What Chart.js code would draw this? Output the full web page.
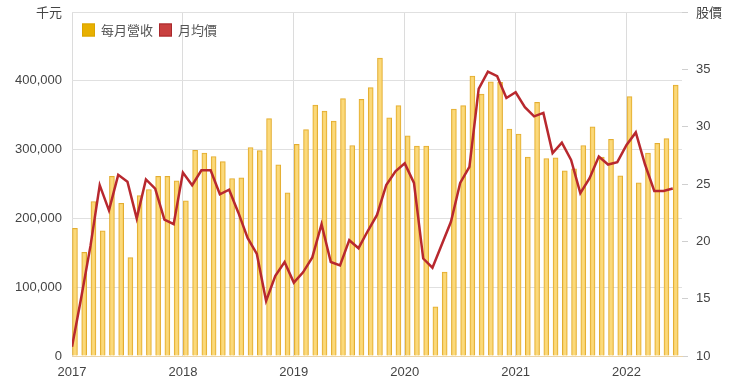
<!DOCTYPE html>
<html>
<head>
<meta charset="utf-8">
<script src="https://cdn.jsdelivr.net/npm/chart.js@4"></script>
<style>
  html, body { margin: 0; padding: 0; background: #fff; }
  #wrap { width: 740px; height: 388px; }
</style>
</head>
<body>
<div id="wrap"><canvas id="myChart"></canvas></div>
<script>
// months since Jan 2017, one per data point (Jan 2017 .. Jun 2022)
const startYear = 2017;
const yearTicks = ["2017", "2018", "2019", "2020", "2021", "2022"];

// 每月營收 (千元)
const revenue = [
  185500, 150700, 224600, 182000, 261000, 222000, 143000, 233000, 242000, 261000, 261000, 254600,
  225600, 299000, 295000, 290000, 282600, 258000, 259000, 303000, 298600, 345000, 278000, 237000,
  307700, 329000, 364700, 356000, 341500, 374000, 306000, 373000, 390000, 433000, 346000, 364000,
  320000, 305000, 305000, 71500, 122000, 359000, 364000, 407000, 380700, 398500, 397600, 330000,
  322700, 289000, 368600, 287000, 288000, 269000, 272000, 306000, 333000, 289000, 315000, 262000,
  377000, 251600, 295000, 309000, 316000, 393600
];

// 月均價
const avgPrice = [
  10.8, 15.1, 19.6, 24.9, 22.7, 25.8, 25.2, 22.0, 25.4, 24.6, 21.9, 21.5,
  26.0, 24.9, 26.2, 26.2, 24.1, 24.5, 22.5, 20.3, 18.9, 14.8, 17.0, 18.2,
  16.4, 17.3, 18.6, 21.5, 18.2, 17.9, 20.1, 19.4, 20.9, 22.3, 24.9, 26.1,
  26.8, 25.1, 18.5, 17.7, 19.7, 21.7, 25.1, 26.5, 33.3, 34.8, 34.4, 32.5,
  33.0, 31.7, 30.9, 31.2, 27.7, 28.6, 27.1, 24.2, 25.5, 27.4, 26.7, 26.9,
  28.4, 29.5, 26.7, 24.4, 24.4, 24.6
];

const legendItems = [
  { text: "每月營收", color: "#e8b000", stroke: "#d9a400" },
  { text: "月均價", color: "#c9403f", stroke: "#a8282c" }
];

const months = revenue.map((v, i) => i);
const barShift = 0.32; // bars sit just right of the month start

const font = { family: "'Liberation Sans', Arial, sans-serif", size: 13 };
const cjk = "'Noto Sans CJK TC', 'Liberation Sans', sans-serif";

// legend drawn inside the plot, top-left, on one row
const insideLegend = {
  id: "insideLegend",
  afterDraw(chart) {
    const ctx = chart.ctx;
    const area = chart.chartArea;
    let x = area.left + 10;
    const y = area.top + 18;
    ctx.save();
    ctx.font = "13px " + cjk;
    ctx.textBaseline = "middle";
    legendItems.forEach((it) => {
      ctx.fillStyle = it.color;
      ctx.strokeStyle = it.stroke;
      ctx.lineWidth = 1;
      ctx.fillRect(x, y - 6.5, 13, 13);
      ctx.strokeRect(x + 0.5, y - 6, 12, 12);
      ctx.fillStyle = "#555";
      ctx.fillText(it.text, x + 19, y);
      x += 19 + ctx.measureText(it.text).width + 6;
    });
    ctx.restore();
  }
};

// y scales: no extra label room, plot runs from y=12 to y=356
const fitY = (w) => (s) => {
  s.width = w;
  s.paddingTop = 0;
  s.paddingBottom = 0;
};

new Chart("myChart", {
  type: "bar",
  data: {
    datasets: [
      {
        type: "line",
        label: "月均價",
        data: months.map(i => ({ x: i, y: avgPrice[i] })),
        yAxisID: "y2",
        borderColor: "#b8282e",
        backgroundColor: "#c9403f",
        borderWidth: 2.5,
        pointRadius: 0,
        tension: 0,
        order: 0
      },
      {
        label: "每月營收",
        data: months.map(i => ({ x: i + barShift, y: revenue[i] })),
        yAxisID: "y",
        backgroundColor: "rgba(250, 212, 105, 0.88)",
        borderColor: "#e3ad30",
        borderWidth: 1,
        barThickness: 5,
        order: 1
      }
    ]
  },
  plugins: [insideLegend],
  options: {
    responsive: true,
    maintainAspectRatio: false,
    animation: false,
    layout: { padding: { top: 12, left: 0, right: 0, bottom: 0 } },
    plugins: {
      tooltip: { enabled: false },
      legend: { display: false }
    },
    scales: {
      x: {
        type: "linear",
        min: 0,
        max: months.length,
        offset: false,
        afterFit: (s) => { s.height = 32; s.paddingLeft = 0; s.paddingRight = 0; },
        afterBuildTicks: (s) => {
          s.ticks = yearTicks.map((t, i) => ({ value: i * 12 }));
        },
        ticks: {
          color: "#444",
          font: font,
          padding: 9,
          maxRotation: 0,
          callback: (v) => String(startYear + v / 12)
        },
        grid: { color: "#dcdcdc", drawTicks: false, offset: false },
        border: { display: true, color: "#ead3a8" }
      },
      y: {
        position: "left",
        min: 0,
        max: 500000,
        afterFit: fitY(72),
        ticks: {
          stepSize: 100000,
          color: "#444",
          font: (ctx) => ctx.tick && ctx.tick.value === 500000 ? { family: cjk, size: 13 } : font,
          padding: 10,
          callback: (v) => v === 500000 ? "千元" : v.toLocaleString("en-US")
        },
        grid: { color: "#e0e0e0", drawTicks: false },
        border: { display: false }
      },
      y2: {
        position: "right",
        min: 10,
        max: 40,
        afterFit: fitY(58),
        ticks: {
          stepSize: 5,
          color: "#444",
          font: (ctx) => ctx.tick && ctx.tick.value === 40 ? { family: cjk, size: 13 } : font,
          padding: 8,
          callback: (v) => v === 40 ? "股價" : String(v)
        },
        grid: { drawOnChartArea: false, color: "#cfcfcf", tickLength: 6 },
        border: { display: false }
      }
    }
  }
});
</script>
</body>
</html>
